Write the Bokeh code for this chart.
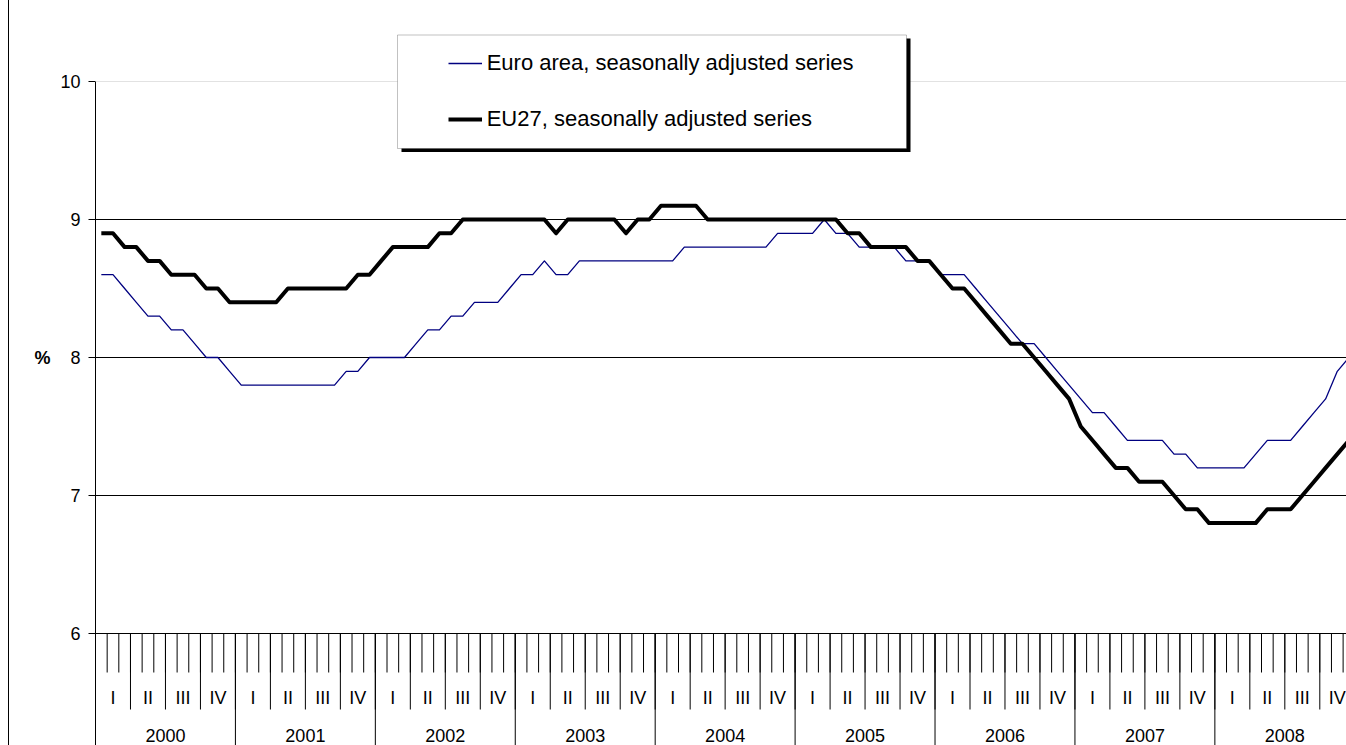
from bokeh.plotting import figure
from bokeh.models import FixedTicker, Span, BoxAnnotation, Legend, LegendItem, Div, Range1d, LinearAxis
from bokeh.layouts import row
from bokeh.embed import file_html
from bokeh.resources import INLINE
from bokeh.core.properties import value

# ---------------- data ----------------
years = [2000, 2001, 2002, 2003, 2004, 2005, 2006, 2007, 2008]
quarters = ["I", "II", "III", "IV"]
series_labels = ["Euro area, seasonally adjusted series", "EU27, seasonally adjusted series"]
unit_label = "%"

euro_area = [
    8.6, 8.6, 8.5, 8.4, 8.3, 8.3, 8.2, 8.2, 8.1, 8.0, 8.0, 7.9,   # 2000
    7.8, 7.8, 7.8, 7.8, 7.8, 7.8, 7.8, 7.8, 7.8, 7.9, 7.9, 8.0,   # 2001
    8.0, 8.0, 8.0, 8.1, 8.2, 8.2, 8.3, 8.3, 8.4, 8.4, 8.4, 8.5,   # 2002
    8.6, 8.6, 8.7, 8.6, 8.6, 8.7, 8.7, 8.7, 8.7, 8.7, 8.7, 8.7,   # 2003
    8.7, 8.7, 8.8, 8.8, 8.8, 8.8, 8.8, 8.8, 8.8, 8.8, 8.9, 8.9,   # 2004
    8.9, 8.9, 9.0, 8.9, 8.9, 8.8, 8.8, 8.8, 8.8, 8.7, 8.7, 8.7,   # 2005
    8.6, 8.6, 8.6, 8.5, 8.4, 8.3, 8.2, 8.1, 8.1, 8.0, 7.9, 7.8,   # 2006
    7.7, 7.6, 7.6, 7.5, 7.4, 7.4, 7.4, 7.4, 7.3, 7.3, 7.2, 7.2,   # 2007
    7.2, 7.2, 7.2, 7.3, 7.4, 7.4, 7.4, 7.5, 7.6, 7.7, 7.9, 8.0,   # 2008
]
eu27 = [
    8.9, 8.9, 8.8, 8.8, 8.7, 8.7, 8.6, 8.6, 8.6, 8.5, 8.5, 8.4,   # 2000
    8.4, 8.4, 8.4, 8.4, 8.5, 8.5, 8.5, 8.5, 8.5, 8.5, 8.6, 8.6,   # 2001
    8.7, 8.8, 8.8, 8.8, 8.8, 8.9, 8.9, 9.0, 9.0, 9.0, 9.0, 9.0,   # 2002
    9.0, 9.0, 9.0, 8.9, 9.0, 9.0, 9.0, 9.0, 9.0, 8.9, 9.0, 9.0,   # 2003
    9.1, 9.1, 9.1, 9.1, 9.0, 9.0, 9.0, 9.0, 9.0, 9.0, 9.0, 9.0,   # 2004
    9.0, 9.0, 9.0, 9.0, 8.9, 8.9, 8.8, 8.8, 8.8, 8.8, 8.7, 8.7,   # 2005
    8.6, 8.5, 8.5, 8.4, 8.3, 8.2, 8.1, 8.1, 8.0, 7.9, 7.8, 7.7,   # 2006
    7.5, 7.4, 7.3, 7.2, 7.2, 7.1, 7.1, 7.1, 7.0, 6.9, 6.9, 6.8,   # 2007
    6.8, 6.8, 6.8, 6.8, 6.9, 6.9, 6.9, 7.0, 7.1, 7.2, 7.3, 7.4,   # 2008
]
y_ticks = [6, 7, 8, 9, 10]
unit_level = 8                # the "%" sits beside this level

# ---------------- geometry ----------------
PAD = 8                       # white space left of the chart border
W, H = 1346 - PAD - 1, 745
FRAME_LEFT = 86
PX_MONTH = 11.66
PX_UNIT = 138.0
Y6 = 633                      # canvas row of the value 6
y_top = 6 + Y6 / PX_UNIT
y_bot = 6 - (H - Y6) / PX_UNIT
x_end = (W - FRAME_LEFT) / PX_MONTH


def px_x(cx):
    return (cx - FRAME_LEFT) / PX_MONTH


def px_y(cy):
    return 6 + (Y6 - cy) / PX_UNIT


n = len(euro_area)
month_mid = [i + 0.5 for i in range(n)]

p = figure(width=W, height=H, x_range=Range1d(0, x_end), y_range=Range1d(y_bot, y_top),
           x_axis_location=None, output_backend="svg", toolbar_location=None,
           min_border_left=FRAME_LEFT, min_border_right=0, min_border_top=0, min_border_bottom=0,
           title=None)
p.outline_line_color = None
p.background_fill_color = "white"
p.border_fill_color = "white"
p.xgrid.grid_line_color = None

# y axis
yax = p.yaxis[0]
yax.ticker = FixedTicker(ticks=y_ticks)
yax.bounds = (y_bot, max(y_ticks))
yax.major_tick_out = 7
yax.major_tick_in = 0
yax.minor_tick_out = 0
yax.minor_tick_in = 0
yax.major_label_standoff = 8
yax.major_label_text_font = "Liberation Sans"
yax.major_label_text_font_size = "18px"
yax.major_label_text_color = "black"
yax.axis_line_color = "black"
yax.major_tick_line_color = "black"

# unit label beside the 8 % level (a second, label-only axis outside the first)
unit_axis = LinearAxis(ticker=FixedTicker(ticks=[unit_level]),
                       major_label_overrides={unit_level: unit_label},
                       axis_line_color=None, major_tick_line_color=None, minor_tick_line_color=None,
                       major_tick_out=0, major_tick_in=0, minor_tick_out=0, minor_tick_in=0,
                       major_label_standoff=7, major_label_text_font="Liberation Sans",
                       major_label_text_font_style="bold", major_label_text_font_size="18px",
                       major_label_text_color="black")
p.add_layout(unit_axis, "left")

p.ygrid.ticker = FixedTicker(ticks=y_ticks[1:-1])
p.ygrid.grid_line_color = "black"
p.ygrid.grid_line_width = 1

p.add_layout(Span(location=y_ticks[-1], dimension="width", line_color="#e2e2e2", line_width=1))
p.add_layout(Span(location=y_ticks[0], dimension="width", line_color="black", line_width=1))

# category axis (months / quarters / years) drawn below the value 6
base = y_ticks[0]
month_b = list(range(0, n + 1))
quarter_b = list(range(0, n + 1, 3))
year_b = list(range(0, n + 1, 12))
p.segment(x0=month_b, y0=[base] * len(month_b), x1=month_b, y1=[base - 39 / PX_UNIT] * len(month_b),
          line_color="black", line_width=1)
p.segment(x0=quarter_b, y0=[base] * len(quarter_b), x1=quarter_b, y1=[base - 76 / PX_UNIT] * len(quarter_b),
          line_color="black", line_width=1)
p.segment(x0=year_b, y0=[base] * len(year_b), x1=year_b, y1=[y_bot] * len(year_b),
          line_color="black", line_width=1)

q_x, q_t = [], []
for iy, _ in enumerate(years):
    for iq, q in enumerate(quarters):
        q_x.append(12 * iy + 3 * iq + 1.5)
        q_t.append(q)
p.text(x=q_x, y=[base - 64.7 / PX_UNIT] * len(q_x), text=q_t, text_align="center", text_baseline="middle",
       text_font=value("Liberation Sans"), text_font_size="18px", text_color="black")
p.text(x=[12 * iy + 6 for iy in range(len(years))], y=[base - 102 / PX_UNIT] * len(years),
       text=[str(y) for y in years], text_align="center", text_baseline="middle",
       text_font=value("Liberation Sans"), text_font_size="18px", text_color="black")

# series
r_eu = p.line(month_mid, euro_area, line_color="#000080", line_width=1.3, line_join="round")
r_27 = p.line(month_mid, eu27, line_color="black", line_width=4, line_join="round")

# legend box with shadow
p.add_layout(BoxAnnotation(left=px_x(392), right=px_x(901), top=px_y(38), bottom=px_y(151.5),
                           fill_color="black", fill_alpha=1, line_color=None))
p.add_layout(BoxAnnotation(left=px_x(388), right=px_x(897), top=px_y(34.5), bottom=px_y(148),
                           fill_color="white", fill_alpha=1, line_color="#333333", line_width=1))

legend = Legend(items=[LegendItem(label=series_labels[0], renderers=[r_eu]),
                       LegendItem(label=series_labels[1], renderers=[r_27])],
                location=(352.7, 612.7), orientation="vertical", padding=0, spacing=30,
                glyph_width=34, glyph_height=26, label_height=26, label_standoff=5,
                label_text_font="Liberation Sans", label_text_font_size="22px",
                label_text_color="black", border_line_color=None, background_fill_alpha=0, margin=0)
p.add_layout(legend)

spacer = Div(width=PAD, height=H, margin=0, styles={"background-color": "white"})
edge = Div(width=1, height=H, margin=0, styles={"background-color": "black"})
layout = row(spacer, edge, p, spacing=0)

open("out.html", "w").write(file_html(layout, INLINE))
